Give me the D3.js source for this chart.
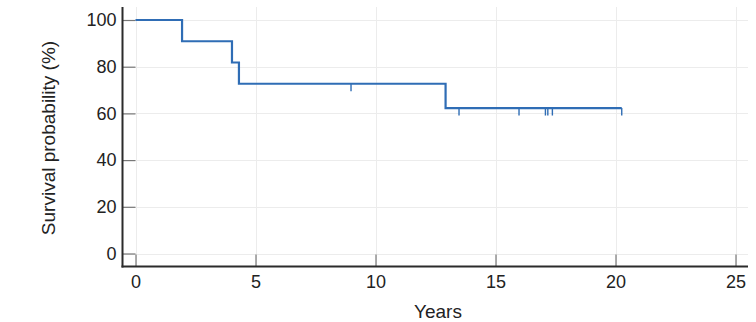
<!DOCTYPE html>
<html>
<head>
<meta charset="utf-8">
<script src="https://cdn.jsdelivr.net/npm/d3@7"></script>
<style>
  html, body { margin: 0; padding: 0; background: #fff; }
  svg { display: block; }
  text { font-family: "Liberation Sans", Arial, sans-serif; fill: #222; }
</style>
</head>
<body>
<svg id="chart" width="756" height="322"></svg>
<script>
// Kaplan–Meier survival curve (percent), years since start
const stepTimes = [0, 1.94, 4.02, 4.31, 12.92];
const stepSurvival = [100, 90.9, 81.8, 72.7, 62.3];
const followUpEnd = 20.26;
const censorTimes = [8.98, 13.48, 15.98, 17.08, 17.18, 17.37, 20.26];
const xTicks = [0, 5, 10, 15, 20, 25];
const yTicks = [0, 20, 40, 60, 80, 100];

const svg = d3.select("#chart");
const x = d3.scaleLinear().domain([0, 25]).range([135.5, 735.5]);
const y = d3.scaleLinear().domain([0, 100]).range([253.5, 20]);

const axisX = 122.5, axisY = 266.5, plotTop = 7, plotRight = 748;

// grid
const grid = svg.append("g").attr("stroke", "#ececec").attr("stroke-width", 1);
grid.selectAll("line.v").data(xTicks).join("line")
  .attr("x1", d => Math.round(x(d)) + 0.5).attr("x2", d => Math.round(x(d)) + 0.5)
  .attr("y1", plotTop).attr("y2", axisY);
grid.selectAll("line.h").data(yTicks).join("line")
  .attr("x1", axisX).attr("x2", plotRight)
  .attr("y1", d => Math.round(y(d)) + 0.5).attr("y2", d => Math.round(y(d)) + 0.5);

// axes with inward ticks
const gx = svg.append("g").attr("transform", `translate(0,${axisY})`)
  .call(d3.axisBottom(x).tickValues(xTicks).tickFormat(d3.format("d"))
    .tickSizeInner(-12).tickSizeOuter(0).tickPadding(9));
const gy = svg.append("g").attr("transform", `translate(${axisX},0)`)
  .call(d3.axisLeft(y).tickValues(yTicks).tickFormat(d3.format("d"))
    .tickSizeInner(-13).tickSizeOuter(0).tickPadding(6));
[gx, gy].forEach(g => {
  g.select(".domain").remove();
  g.selectAll(".tick line").attr("stroke", "#777").attr("stroke-width", 1.2);
  g.selectAll(".tick text").attr("font-size", 18).attr("fill", "#222")
    .style("font-family", '"Liberation Sans", Arial, sans-serif');
});
gx.selectAll(".tick text").attr("dy", "0.71em");

svg.append("line").attr("x1", axisX).attr("x2", axisX).attr("y1", plotTop).attr("y2", axisY + 1)
  .attr("stroke", "#2b2b2b").attr("stroke-width", 2);
svg.append("line").attr("x1", axisX - 1).attr("x2", plotRight).attr("y1", axisY).attr("y2", axisY)
  .attr("stroke", "#2b2b2b").attr("stroke-width", 2);

// survival step curve
const pts = stepTimes.map((t, i) => [t, stepSurvival[i]]);
pts.push([followUpEnd, stepSurvival[stepSurvival.length - 1]]);
const line = d3.line().x(d => x(d[0])).y(d => y(d[1])).curve(d3.curveStepAfter);
svg.append("path").datum(pts).attr("d", line)
  .attr("fill", "none").attr("stroke", "#2f6db5").attr("stroke-width", 2.2);

// censor marks
const survAt = t => {
  let s = stepSurvival[0];
  stepTimes.forEach((st, i) => { if (st <= t) s = stepSurvival[i]; });
  return s;
};
svg.append("g").selectAll("line").data(censorTimes).join("line")
  .attr("x1", d => x(d)).attr("x2", d => x(d))
  .attr("y1", d => y(survAt(d))).attr("y2", d => y(survAt(d)) + 7.5)
  .attr("stroke", "#2f6db5").attr("stroke-width", 1.4);

// axis titles
svg.append("text").attr("x", 438).attr("y", 318).attr("text-anchor", "middle")
  .attr("font-size", 19).text("Years");
svg.append("text").attr("transform", "translate(55,138) rotate(-90)")
  .attr("text-anchor", "middle").attr("font-size", 19).text("Survival probability (%)");
</script>
</body>
</html>
